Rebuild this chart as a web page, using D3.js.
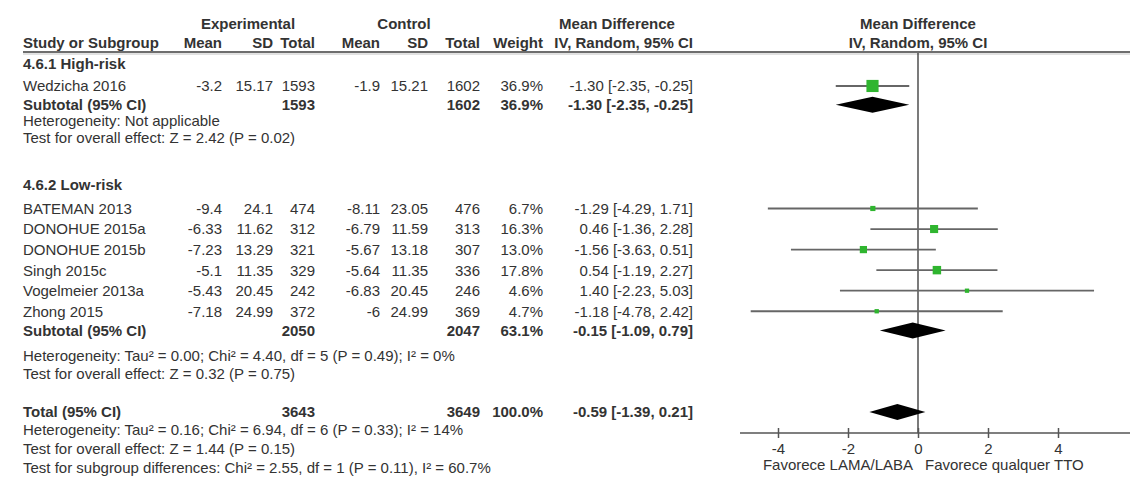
<!DOCTYPE html>
<html>
<head>
<meta charset="utf-8">
<script src="https://cdn.jsdelivr.net/npm/d3@7"></script>
<style>
  body { margin: 0; background: #fff; }
  text { font-family: "Liberation Sans", Arial, sans-serif; }
</style>
</head>
<body>
<div id="visContainer"></div>
<script>
// study level values
const studies   = ["Wedzicha 2016", "BATEMAN 2013", "DONOHUE 2015a", "DONOHUE 2015b", "Singh 2015c", "Vogelmeier 2013a", "Zhong 2015"];
const studyGrp  = [0, 1, 1, 1, 1, 1, 1];
const expMean   = [-3.2, -9.4, -6.33, -7.23, -5.1, -5.43, -7.18];
const expSD     = [15.17, 24.1, 11.62, 13.29, 11.35, 20.45, 24.99];
const expTotal  = [1593, 474, 312, 321, 329, 242, 372];
const ctlMean   = [-1.9, -8.11, -6.79, -5.67, -5.64, -6.83, -6];
const ctlSD     = [15.21, 23.05, 11.59, 13.18, 11.35, 20.45, 24.99];
const ctlTotal  = [1602, 476, 313, 307, 336, 246, 369];
const weight    = [36.9, 6.7, 16.3, 13.0, 17.8, 4.6, 4.7];
const md        = [-1.30, -1.29, 0.46, -1.56, 0.54, 1.40, -1.18];
const ciLow     = [-2.35, -4.29, -1.36, -3.63, -1.19, -2.23, -4.78];
const ciHigh    = [-0.25, 1.71, 2.28, 0.51, 2.27, 5.03, 2.42];

// subgroups
const groups        = ["4.6.1 High-risk", "4.6.2 Low-risk"];
const subExpTotal   = [1593, 2050];
const subCtlTotal   = [1602, 2047];
const subWeight     = [36.9, 63.1];
const subMd         = [-1.30, -0.15];
const subLow        = [-2.35, -1.09];
const subHigh       = [-0.25, 0.79];
const subHet        = ["Heterogeneity: Not applicable",
                       "Heterogeneity: Tau\u00b2 = 0.00; Chi\u00b2 = 4.40, df = 5 (P = 0.49); I\u00b2 = 0%"];
const subEffect     = ["Test for overall effect: Z = 2.42 (P = 0.02)",
                       "Test for overall effect: Z = 0.32 (P = 0.75)"];

// overall
const totalExp    = 3643;
const totalCtl    = 3649;
const totalWeight = 100.0;
const totalMd     = -0.59;
const totalLow    = -1.39;
const totalHigh   = 0.21;
const totalNotes  = ["Heterogeneity: Tau\u00b2 = 0.16; Chi\u00b2 = 6.94, df = 6 (P = 0.33); I\u00b2 = 14%",
                     "Test for overall effect: Z = 1.44 (P = 0.15)",
                     "Test for subgroup differences: Chi\u00b2 = 2.55, df = 1 (P = 0.11), I\u00b2 = 60.7%"];

const tickValues = [-4, -2, 0, 2, 4];
const axisLabels = ["Favorece LAMA/LABA", "Favorece qualquer TTO"];

function renderChart() {
    const width = 1130, height = 484;
    const ink = "#333";
    const fs = 15;

    const svg = d3.select("#visContainer").append("svg")
        .attr("width", width)
        .attr("height", height)
        .style("display", "block");

    // rows are in "row units", scale converts to pixels
    const yRow = d3.scaleLinear().domain([0, 1]).range([64, 84.35]);
    const x = d3.scaleLinear().domain([-4, 4]).range([778, 1058]);

    const col = { name: 23, expMean: 222, expSD: 273, expTotal: 315, ctlMean: 380, ctlSD: 428, ctlTotal: 480, weight: 543, ci: 693 };

    const fmtCI = (m, l, h) => `${m.toFixed(2)} [${l.toFixed(2)}, ${h.toFixed(2)}]`;
    const fmtW = w => w.toFixed(1) + "%";

    function txt(s, tx, ty, anchor, bold) {
        svg.append("text")
            .attr("x", tx).attr("y", ty).attr("dy", "0.36em")
            .attr("text-anchor", anchor || "start")
            .attr("font-size", fs)
            .attr("font-weight", bold ? "bold" : "normal")
            .attr("fill", ink)
            .text(s);
    }

    // headers
    txt("Experimental", 248, 24, "middle", true);
    txt("Control", 404, 24, "middle", true);
    txt("Mean Difference", 617, 24, "middle", true);
    txt("Mean Difference", x(0), 24, "middle", true);
    txt("Study or Subgroup", col.name, 43, "start", true);
    [["Mean", col.expMean], ["SD", col.expSD], ["Total", col.expTotal], ["Mean", col.ctlMean],
     ["SD", col.ctlSD], ["Total", col.ctlTotal], ["Weight", col.weight], ["IV, Random, 95% CI", col.ci]]
        .forEach(h => txt(h[0], h[1], 43, "end", true));
    txt("IV, Random, 95% CI", x(0), 43, "middle", true);

    svg.append("line").attr("x1", col.name).attr("x2", width).attr("y1", 52).attr("y2", 52)
        .attr("stroke", "#6e6e6e").attr("stroke-width", 2);
    svg.append("line").attr("x1", col.name).attr("x2", width).attr("y1", 54).attr("y2", 54)
        .attr("stroke", "#c4c4c4").attr("stroke-width", 1);

    // row layout (row units)
    const groupRows = [
        { header: 0, first: 1.08, step: 1.01, sub: 2.0, het: 2.78, eff: 3.6 },
        { header: 5.95, first: 7.1, step: 1.01, sub: 13.1, het: 14.35, eff: 15.2 }
    ];
    const totalRow = 17.1, totalNoteRows = [17.95, 18.9, 19.85];

    const forest = [];

    groups.forEach((gname, gi) => {
        const L = groupRows[gi];
        txt(gname, col.name, yRow(L.header), "start", true);
        let k = 0;
        studies.forEach((s, i) => {
            if (studyGrp[i] !== gi) return;
            const y = yRow(L.first + k * L.step);
            k++;
            txt(s, col.name, y, "start", false);
            txt(String(expMean[i]), col.expMean, y, "end");
            txt(String(expSD[i]), col.expSD, y, "end");
            txt(String(expTotal[i]), col.expTotal, y, "end");
            txt(String(ctlMean[i]), col.ctlMean, y, "end");
            txt(String(ctlSD[i]), col.ctlSD, y, "end");
            txt(String(ctlTotal[i]), col.ctlTotal, y, "end");
            txt(fmtW(weight[i]), col.weight, y, "end");
            txt(fmtCI(md[i], ciLow[i], ciHigh[i]), col.ci, y, "end");
            forest.push({ type: "study", y, m: md[i], lo: ciLow[i], hi: ciHigh[i], w: weight[i] });
        });
        const ys = yRow(L.sub);
        txt("Subtotal (95% CI)", col.name, ys, "start", true);
        txt(String(subExpTotal[gi]), col.expTotal, ys, "end", true);
        txt(String(subCtlTotal[gi]), col.ctlTotal, ys, "end", true);
        txt(fmtW(subWeight[gi]), col.weight, ys, "end", true);
        txt(fmtCI(subMd[gi], subLow[gi], subHigh[gi]), col.ci, ys, "end", true);
        forest.push({ type: "diamond", y: ys, m: subMd[gi], lo: subLow[gi], hi: subHigh[gi] });
        txt(subHet[gi], col.name, yRow(L.het), "start");
        txt(subEffect[gi], col.name, yRow(L.eff), "start");
    });

    const yt = yRow(totalRow);
    txt("Total (95% CI)", col.name, yt, "start", true);
    txt(String(totalExp), col.expTotal, yt, "end", true);
    txt(String(totalCtl), col.ctlTotal, yt, "end", true);
    txt(fmtW(totalWeight), col.weight, yt, "end", true);
    txt(fmtCI(totalMd, totalLow, totalHigh), col.ci, yt, "end", true);
    forest.push({ type: "diamond", y: yt, m: totalMd, lo: totalLow, hi: totalHigh });
    totalNotes.forEach((s, i) => txt(s, col.name, yRow(totalNoteRows[i]), "start"));

    // forest plot
    const axisY = 433;
    const plot = svg.append("g");

    plot.append("line")
        .attr("x1", x(0)).attr("x2", x(0)).attr("y1", 53).attr("y2", axisY)
        .attr("stroke", "#333").attr("stroke-width", 1.3);

    const st = forest.filter(d => d.type === "study");
    plot.selectAll("line.ci").data(st).join("line")
        .attr("class", "ci")
        .attr("x1", d => x(d.lo)).attr("x2", d => x(d.hi))
        .attr("y1", d => d.y).attr("y2", d => d.y)
        .attr("stroke", "#666").attr("stroke-width", 1.8);

    plot.selectAll("rect.pt").data(st).join("rect")
        .attr("class", "pt")
        .attr("width", d => 2 * Math.sqrt(d.w))
        .attr("height", d => 2 * Math.sqrt(d.w))
        .attr("x", d => x(d.m) - Math.sqrt(d.w))
        .attr("y", d => d.y - Math.sqrt(d.w))
        .attr("fill", "#2fb52f");

    plot.selectAll("path.dia").data(forest.filter(d => d.type === "diamond")).join("path")
        .attr("class", "dia")
        .attr("d", d => `M${x(d.lo)},${d.y}L${x(d.m)},${d.y - 8}L${x(d.hi)},${d.y}L${x(d.m)},${d.y + 8}Z`)
        .attr("fill", "#000");

    // axis
    plot.append("line")
        .attr("x1", 740).attr("x2", width).attr("y1", axisY).attr("y2", axisY)
        .attr("stroke", "#555").attr("stroke-width", 1.6);

    const ax = plot.append("g")
        .attr("transform", `translate(0,${axisY})`)
        .call(d3.axisBottom(x).tickValues(tickValues).tickSize(5).tickPadding(5)
            .tickFormat(d => String(d)));
    ax.select(".domain").remove();
    ax.selectAll(".tick line").attr("y1", -5).attr("stroke", "#555").attr("stroke-width", 1.5);
    ax.selectAll(".tick text").attr("font-size", fs).attr("fill", ink)
        .attr("font-family", "Liberation Sans, Arial, sans-serif");

    txt(axisLabels[0], x(0) - 5, 465, "end");
    txt(axisLabels[1], x(0) + 7, 465, "start");
}

document.addEventListener("DOMContentLoaded", function () {
    renderChart();
});
</script>
</body>
</html>
